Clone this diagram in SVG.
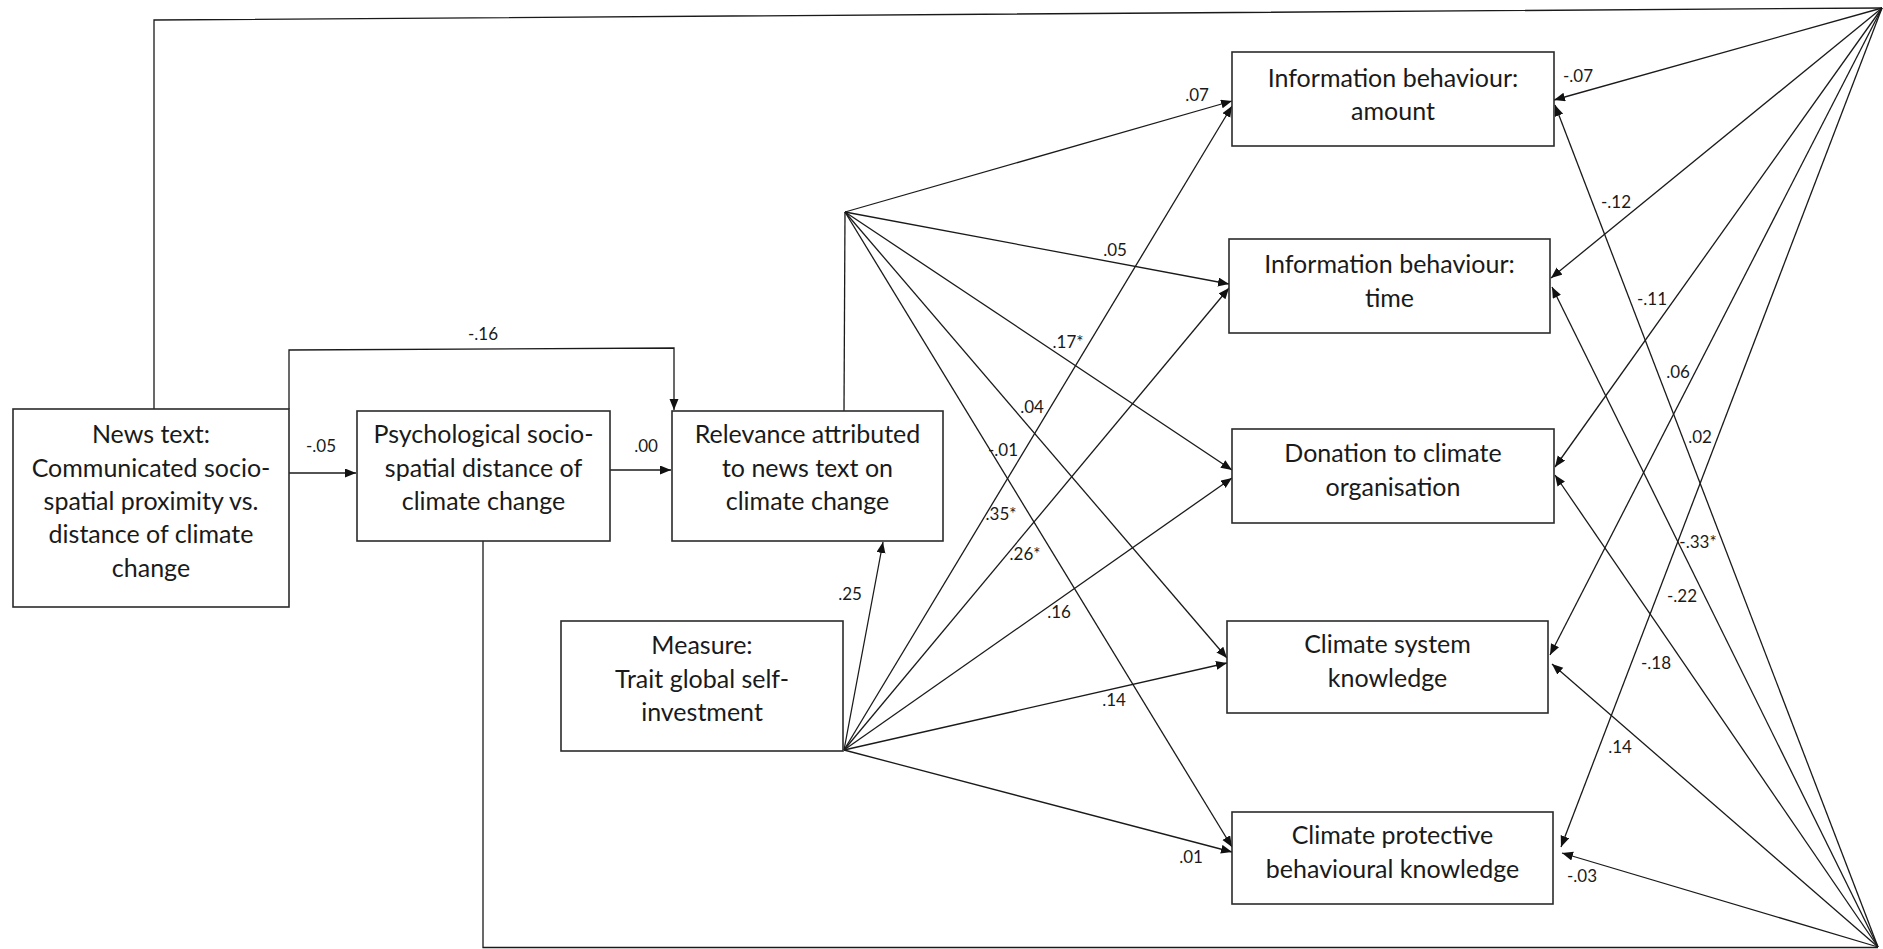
<svg xmlns="http://www.w3.org/2000/svg" width="1883" height="949" viewBox="0 0 1883 949">
  <defs>
    <marker id="arrow" markerUnits="userSpaceOnUse" markerWidth="12" markerHeight="10" refX="11" refY="4.5" orient="auto">
      <path d="M0,0 L11,4.5 L0,9 z" fill="#111"/>
    </marker>
    <style>
      .box { fill: #ffffff; stroke: #2b2b2b; stroke-width: 1.6; }
      .node-text { font-family: Lato, "Liberation Sans", sans-serif; font-size: 25px; fill: #1a1a1a; text-anchor: middle; }
      .link { fill: none; stroke: #1a1a1a; stroke-width: 1.3; }
      .arrowed { marker-end: url(#arrow); }
      .coef { font-family: Lato, "Liberation Sans", sans-serif; font-size: 17px; fill: #1a1a1a; text-anchor: middle; }
    </style>
  </defs>
  <rect x="0" y="0" width="1883" height="949" fill="#ffffff"/>

  <!-- paths between constructs -->
  <g id="connectors">
    <!-- news text to the right-hand hub (top) -->
    <polyline class="link" points="154,409 154,20 1882,8"/>
    <!-- psychological distance to the right-hand hub (bottom) -->
    <polyline class="link" points="483,541 483,947.5 1878,947.5"/>
    <!-- main chain -->
    <line class="link arrowed" x1="289" y1="473" x2="356" y2="473"/>
    <line class="link arrowed" x1="610" y1="470" x2="671" y2="470"/>
    <polyline class="link arrowed" points="289,409 289,350 674,348 674,410"/>
    <!-- relevance stem to fan point -->
    <line class="link" x1="844" y1="411" x2="845" y2="212"/>
    <!-- measure to relevance -->
    <line class="link arrowed" x1="844" y1="750" x2="883" y2="542"/>

    <!-- relevance fan -->
    <line class="link arrowed" x1="845" y1="212" x2="1232" y2="101"/>
    <line class="link arrowed" x1="845" y1="212" x2="1229" y2="284"/>
    <line class="link arrowed" x1="845" y1="212" x2="1232" y2="470"/>
    <line class="link arrowed" x1="845" y1="212" x2="1227" y2="658"/>
    <line class="link arrowed" x1="845" y1="212" x2="1232" y2="847"/>

    <!-- measure fan -->
    <line class="link arrowed" x1="844" y1="750" x2="1232" y2="106"/>
    <line class="link arrowed" x1="844" y1="750" x2="1229" y2="288"/>
    <line class="link arrowed" x1="844" y1="750" x2="1232" y2="478"/>
    <line class="link arrowed" x1="844" y1="750" x2="1227" y2="663"/>
    <line class="link arrowed" x1="844" y1="750" x2="1232" y2="852"/>

    <!-- top hub fan -->
    <line class="link arrowed" x1="1882" y1="8" x2="1554" y2="100"/>
    <line class="link arrowed" x1="1882" y1="8" x2="1551" y2="278"/>
    <line class="link arrowed" x1="1882" y1="8" x2="1555" y2="467"/>
    <line class="link arrowed" x1="1882" y1="8" x2="1550" y2="655"/>
    <line class="link arrowed" x1="1882" y1="8" x2="1561" y2="847"/>

    <!-- bottom hub fan -->
    <line class="link arrowed" x1="1878" y1="947" x2="1555" y2="105"/>
    <line class="link arrowed" x1="1878" y1="947" x2="1552" y2="287"/>
    <line class="link arrowed" x1="1878" y1="947" x2="1555" y2="475"/>
    <line class="link arrowed" x1="1878" y1="947" x2="1552" y2="664"/>
    <line class="link arrowed" x1="1878" y1="947" x2="1562" y2="853"/>
  </g>

  <!-- path coefficients -->
  <g id="coefficients">
    <text class="coef" x="321" y="452">-.05</text>
    <text class="coef" x="646" y="452">.00</text>
    <text class="coef" x="483" y="340">-.16</text>
    <text class="coef" x="850" y="600">.25</text>
    <text class="coef" x="1197" y="101">.07</text>
    <text class="coef" x="1115" y="256">.05</text>
    <text class="coef" x="1068" y="348">.17*</text>
    <text class="coef" x="1032" y="413">.04</text>
    <text class="coef" x="1003" y="456">-.01</text>
    <text class="coef" x="1001" y="520">.35*</text>
    <text class="coef" x="1025" y="560">.26*</text>
    <text class="coef" x="1059" y="618">.16</text>
    <text class="coef" x="1114" y="706">.14</text>
    <text class="coef" x="1191" y="863">.01</text>
    <text class="coef" x="1578" y="82">-.07</text>
    <text class="coef" x="1616" y="208">-.12</text>
    <text class="coef" x="1652" y="305">-.11</text>
    <text class="coef" x="1678" y="378">.06</text>
    <text class="coef" x="1700" y="443">.02</text>
    <text class="coef" x="1698" y="548">-.33*</text>
    <text class="coef" x="1682" y="602">-.22</text>
    <text class="coef" x="1656" y="669">-.18</text>
    <text class="coef" x="1620" y="753">.14</text>
    <text class="coef" x="1582" y="882">-.03</text>
  </g>

  <g id="news-text">
    <rect class="box" x="13" y="409" width="276" height="198"/>
    <text class="node-text" x="151" y="443">News text:</text>
    <text class="node-text" x="151" y="477">Communicated socio-</text>
    <text class="node-text" x="151" y="510">spatial proximity vs.</text>
    <text class="node-text" x="151" y="543">distance of climate</text>
    <text class="node-text" x="151" y="577">change</text>
  </g>

  <g id="psychological-distance">
    <rect class="box" x="357" y="411" width="253" height="130"/>
    <text class="node-text" x="483.5" y="443">Psychological socio-</text>
    <text class="node-text" x="483.5" y="477">spatial distance of</text>
    <text class="node-text" x="483.5" y="510">climate change</text>
  </g>

  <g id="relevance">
    <rect class="box" x="672" y="411" width="271" height="130"/>
    <text class="node-text" x="807.5" y="443">Relevance attributed</text>
    <text class="node-text" x="807.5" y="477">to news text on</text>
    <text class="node-text" x="807.5" y="510">climate change</text>
  </g>

  <g id="measure">
    <rect class="box" x="561" y="621" width="282" height="130"/>
    <text class="node-text" x="702" y="654">Measure:</text>
    <text class="node-text" x="702" y="688">Trait global self-</text>
    <text class="node-text" x="702" y="721">investment</text>
  </g>

  <g id="info-amount">
    <rect class="box" x="1232" y="52" width="322" height="94"/>
    <text class="node-text" x="1393" y="87">Information behaviour:</text>
    <text class="node-text" x="1393" y="120">amount</text>
  </g>

  <g id="info-time">
    <rect class="box" x="1229" y="239" width="321" height="94"/>
    <text class="node-text" x="1389.5" y="273">Information behaviour:</text>
    <text class="node-text" x="1389.5" y="307">time</text>
  </g>

  <g id="donation">
    <rect class="box" x="1232" y="429" width="322" height="94"/>
    <text class="node-text" x="1393" y="462">Donation to climate</text>
    <text class="node-text" x="1393" y="496">organisation</text>
  </g>

  <g id="system-knowledge">
    <rect class="box" x="1227" y="621" width="321" height="92"/>
    <text class="node-text" x="1387.5" y="653">Climate system</text>
    <text class="node-text" x="1387.5" y="687">knowledge</text>
  </g>

  <g id="protective-knowledge">
    <rect class="box" x="1232" y="812" width="321" height="92"/>
    <text class="node-text" x="1392.5" y="844">Climate protective</text>
    <text class="node-text" x="1392.5" y="878">behavioural knowledge</text>
  </g>
</svg>
